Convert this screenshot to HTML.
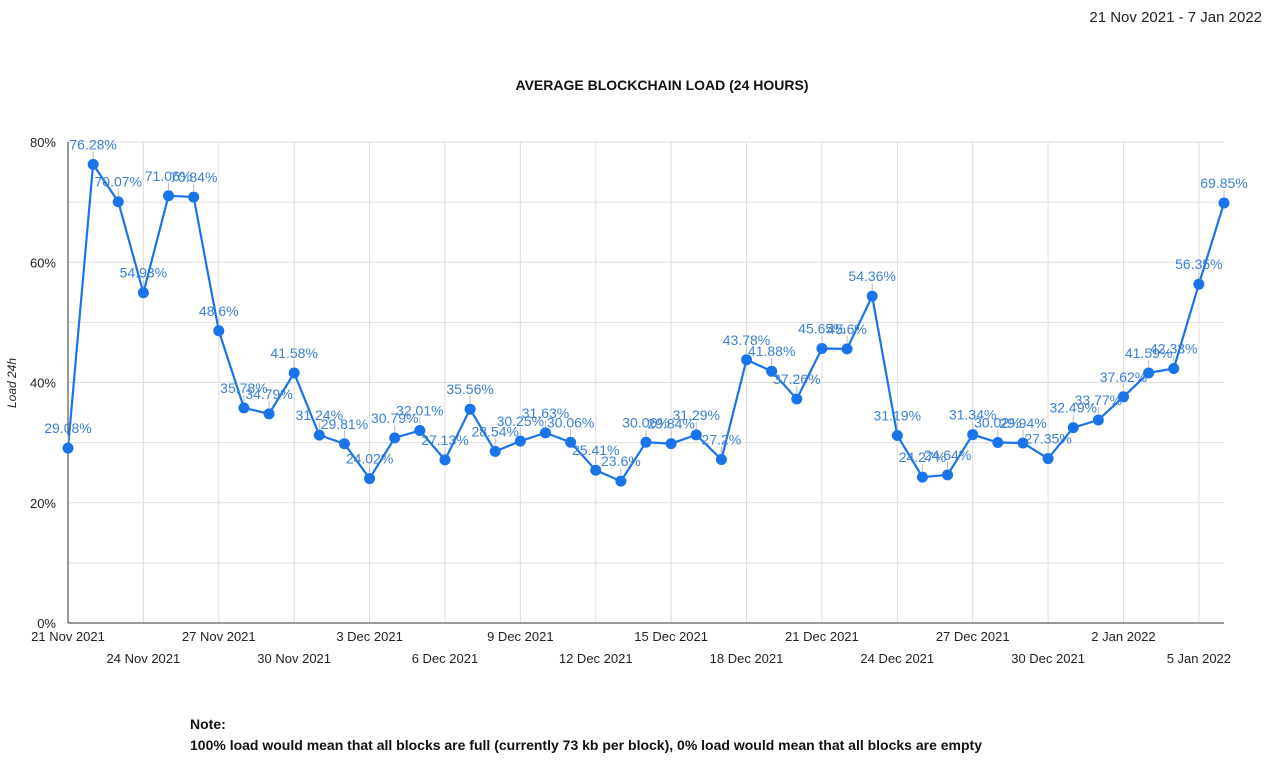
<!DOCTYPE html>
<html><head><meta charset="utf-8"><style>
body{margin:0;background:#fff;font-family:"Liberation Sans",Arial,sans-serif;}
svg text{font-family:"Liberation Sans",Arial,sans-serif;}
</style></head><body>
<svg id="chart" width="1280" height="763">
<text x="1262" y="22" text-anchor="end" font-size="15" fill="#222">21 Nov 2021 - 7 Jan 2022</text>
<text x="662" y="90" text-anchor="middle" font-size="14" font-weight="bold" fill="#111">AVERAGE BLOCKCHAIN LOAD (24 HOURS)</text>
<text transform="translate(16,383) rotate(-90)" text-anchor="middle" font-size="12" font-style="italic" fill="#222">Load 24h</text>
<g id="grid"></g><g id="axes"></g><g id="series"></g><g id="labels"></g>
<text x="190" y="729" font-size="14" font-weight="bold" fill="#111">Note:</text>
<text x="190" y="750" font-size="14" font-weight="bold" fill="#111">100% load would mean that all blocks are full (currently 73 kb per block), 0% load would mean that all blocks are empty</text>
</svg>
<script>
const dates=["21 Nov 2021","22 Nov 2021","23 Nov 2021","24 Nov 2021","25 Nov 2021","26 Nov 2021","27 Nov 2021","28 Nov 2021","29 Nov 2021","30 Nov 2021","1 Dec 2021","2 Dec 2021","3 Dec 2021","4 Dec 2021","5 Dec 2021","6 Dec 2021","7 Dec 2021","8 Dec 2021","9 Dec 2021","10 Dec 2021","11 Dec 2021","12 Dec 2021","13 Dec 2021","14 Dec 2021","15 Dec 2021","16 Dec 2021","17 Dec 2021","18 Dec 2021","19 Dec 2021","20 Dec 2021","21 Dec 2021","22 Dec 2021","23 Dec 2021","24 Dec 2021","25 Dec 2021","26 Dec 2021","27 Dec 2021","28 Dec 2021","29 Dec 2021","30 Dec 2021","31 Dec 2021","1 Jan 2022","2 Jan 2022","3 Jan 2022","4 Jan 2022","5 Jan 2022","6 Jan 2022"];
const loads=[29.08,76.28,70.07,54.93,71.06,70.84,48.6,35.78,34.79,41.58,31.24,29.81,24.02,30.79,32.01,27.13,35.56,28.54,30.25,31.63,30.06,25.41,23.6,30.06,29.84,31.29,27.2,43.78,41.88,37.26,45.65,45.6,54.36,31.19,24.27,24.64,31.34,30.02,29.94,27.35,32.49,33.77,37.62,41.59,42.33,56.35,69.85];
const yTicks=[0,20,40,60,80];
const yGrid=[10,20,30,40,50,60,70,80];
const X0=68,X1=1224,Y0=623,Y1=142;
const ns="http://www.w3.org/2000/svg";
function x(i){return X0+(X1-X0)*i/(dates.length-1);}
function y(v){return Y0-(Y0-Y1)*v/80;}
function mk(tag,attrs,parent){const e=document.createElementNS(ns,tag);for(const k in attrs)e.setAttribute(k,attrs[k]);document.getElementById(parent).appendChild(e);return e;}
yGrid.forEach(v=>{const l=mk('line',{x1:X0,x2:X1,y1:y(v),y2:y(v),stroke:'#ddd','stroke-width':1},'grid');

});
yTicks.forEach(v=>{const t=mk('text',{x:X0-12,y:y(v)+5,'text-anchor':'end','font-size':13,fill:'#222'},'axes');t.textContent=v+'%';

});
dates.forEach((d,i)=>{if(i%3!==0)return;
if(i>0){const g=mk('line',{x1:x(i),x2:x(i),y1:Y1,y2:Y0,stroke:'#ddd','stroke-width':1},'grid');

}
const row=(i/3)%2;
const t=mk('text',{x:x(i),y:row?663:641,'text-anchor':'middle','font-size':13,fill:'#222'},'axes');t.textContent=d.replace(' 2021',' 2021').replace(/^(\d+ \w+) (\d+)$/,'$1 $2');

});
const ax=mk('line',{x1:X0,x2:X0,y1:Y1,y2:Y0,stroke:'#333','stroke-width':1},'axes');


const bx=mk('line',{x1:X0,x2:X1,y1:Y0,y2:Y0,stroke:'#333','stroke-width':1},'axes');


const p=mk('polyline',{points:loads.map((v,i)=>x(i)+','+y(v)).join(' '),fill:'none',stroke:'#1a73e8','stroke-width':2.2},'series');


loads.forEach((v,i)=>{const c=mk('circle',{cx:x(i),cy:y(v),r:5.5,fill:'#1a73e8'},'series');


const tk=mk('line',{x1:x(i),x2:x(i),y1:y(v)-6,y2:y(v)-13,stroke:'#bbb','stroke-width':1},'labels');


const t=mk('text',{x:x(i),y:y(v)-15,'text-anchor':'middle','font-size':14,fill:'#3c7fd4'},'labels');t.textContent=v+'%';

});
</script>
</body></html>
